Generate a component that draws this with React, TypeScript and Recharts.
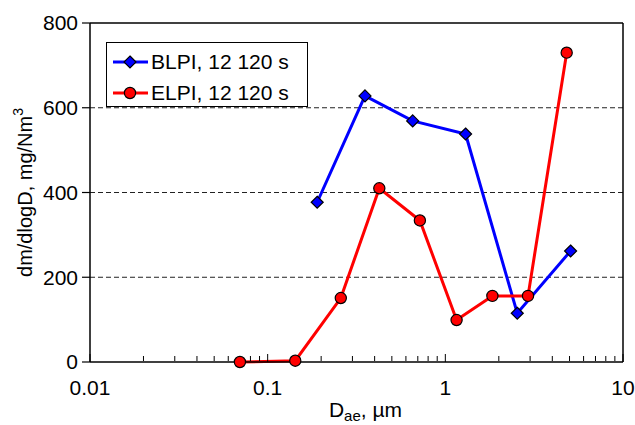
import { CartesianGrid, Line, LineChart, XAxis, YAxis } from "recharts";

// BLPI, 12 120 s
const blpiD = [0.19, 0.353, 0.655, 1.3, 2.54, 5.07];
const blpiM = [377, 628, 569, 538, 115, 262];

// ELPI, 12 120 s
const elpiD = [0.0698, 0.143, 0.258, 0.425, 0.719, 1.157, 1.84, 2.92, 4.82];
const elpiM = [0, 3, 151, 410, 334, 99, 156, 156, 730];

const seriesNames = ["BLPI, 12 120 s", "ELPI, 12 120 s"];
const seriesColors = ["#0000ff", "#ff0000"];

const xMajorTicks = [0.01, 0.1, 1, 10];
const xMinorTicks = [
  0.02, 0.03, 0.04, 0.05, 0.06, 0.07, 0.08, 0.09,
  0.2, 0.3, 0.4, 0.5, 0.6, 0.7, 0.8, 0.9,
  2, 3, 4, 5, 6, 7, 8, 9,
];
const yTicks = [0, 200, 400, 600, 800];
const yGrid = [200, 400, 600];

const blpi = blpiD.map((x, i) => ({ x, y: blpiM[i] }));
const elpi = elpiD.map((x, i) => ({ x, y: elpiM[i] }));

const font = "'Liberation Sans', Arial, sans-serif";
const tickFont = { fontSize: 21, fill: "#000", fontFamily: font };
const noLabel = () => <g />;

const Diamond = (p: any) => {
  const { cx, cy, index } = p;
  const s = 6;
  return (
    <path
      key={"d" + index}
      d={`M${cx},${cy - s}L${cx + s},${cy}L${cx},${cy + s}L${cx - s},${cy}Z`}
      fill="#0000ff"
      stroke="#000"
      strokeWidth={1.2}
    />
  );
};

const Circle = (p: any) => {
  const { cx, cy, index } = p;
  return <circle key={"c" + index} cx={cx} cy={cy} r={5.6} fill="#ff0000" stroke="#000" strokeWidth={1.2} />;
};

const YTitle = (p: any) => {
  const vb = p.viewBox;
  const cy = vb.y + vb.height / 2;
  return (
    <text
      x={32}
      y={cy}
      transform={`rotate(-90, 32, ${cy})`}
      textAnchor="middle"
      fontSize={20}
      fontFamily={font}
      fill="#000"
    >
      dm/dlogD, mg/Nm
      <tspan dy={-9} fontSize={14}>3</tspan>
    </text>
  );
};

const XTitle = (p: any) => {
  const vb = p.viewBox;
  const cx = vb.x + vb.width / 2 + 9;
  return (
    <text x={cx} y={417} textAnchor="middle" fontSize={21} fontFamily={font} fill="#000">
      D
      <tspan dy={4} fontSize={15}>ae</tspan>
      <tspan dy={-4}>, µm</tspan>
    </text>
  );
};

function LegendBox() {
  const markers = [
    <path d="M23,-6L29,0L23,6L17,0Z" fill="#0000ff" stroke="#000" strokeWidth={1.2} />,
    <circle cx={23} cy={0} r={5.6} fill="#ff0000" stroke="#000" strokeWidth={1.2} />,
  ];
  return (
    <div
      style={{
        position: "absolute",
        left: 106,
        top: 42,
        width: 202,
        height: 65,
        boxSizing: "border-box",
        border: "1.5px solid #000",
        background: "#fff",
        fontFamily: font,
        fontSize: 21,
        color: "#000",
      }}
    >
      {seriesNames.map((name, i) => (
        <div
          key={name}
          style={{ position: "absolute", left: 0, top: 19 + i * 31 - 13, height: 26, display: "flex", alignItems: "center" }}
        >
          <svg width={44} height={26} style={{ display: "block" }}>
            <g transform="translate(0,13)">
              <line x1={6} x2={41} y1={0} y2={0} stroke={seriesColors[i]} strokeWidth={3} />
              {markers[i]}
            </g>
          </svg>
          <span style={{ whiteSpace: "nowrap", lineHeight: "26px" }}>{name}</span>
        </div>
      ))}
    </div>
  );
}

export default function App() {
  return (
    <div style={{ position: "absolute", left: 0, top: 0, width: 635, height: 425, background: "#fff" }}>
      <LineChart width={635} height={425} margin={{ top: 23, right: 12, left: 0, bottom: 0 }}>
        <CartesianGrid horizontalValues={yGrid} vertical={false} stroke="#222" strokeDasharray="5 3" />
        <XAxis
          dataKey="x"
          type="number"
          scale="log"
          domain={[0.01, 10]}
          allowDataOverflow
          ticks={xMajorTicks}
          interval={0}
          height={63}
          tickLine={false}
          tickSize={8}
          tickMargin={10}
          tick={tickFont}
          axisLine={{ stroke: "#000", strokeWidth: 1.5 }}
          tickFormatter={(v: number) => String(v)}
          label={<XTitle />}
        />
        <XAxis
          xAxisId="minor"
          dataKey="x"
          type="number"
          scale="log"
          domain={[0.01, 10]}
          allowDataOverflow
          mirror
          height={1}
          ticks={xMinorTicks}
          interval={0}
          tick={noLabel}
          tickSize={5}
          tickLine={{ stroke: "#000", strokeWidth: 1 }}
          axisLine={false}
        />
        <XAxis
          xAxisId="major"
          dataKey="x"
          type="number"
          scale="log"
          domain={[0.01, 10]}
          allowDataOverflow
          mirror
          height={1}
          ticks={xMajorTicks}
          interval={0}
          tick={noLabel}
          tickSize={8}
          tickLine={{ stroke: "#000", strokeWidth: 1 }}
          axisLine={false}
        />
        <XAxis
          xAxisId="top"
          orientation="top"
          type="number"
          scale="log"
          domain={[0.01, 10]}
          allowDataOverflow
          mirror
          height={1}
          tick={false}
          tickLine={false}
          axisLine={{ stroke: "#000", strokeWidth: 1.5 }}
        />
        <YAxis
          type="number"
          domain={[0, 800]}
          ticks={yTicks}
          interval={0}
          width={90}
          tickSize={8}
          tickMargin={4}
          tick={tickFont}
          tickLine={{ stroke: "#000", strokeWidth: 1.2 }}
          axisLine={{ stroke: "#000", strokeWidth: 1.5 }}
          label={<YTitle />}
        />
        <YAxis
          yAxisId="right"
          orientation="right"
          type="number"
          domain={[0, 800]}
          mirror
          width={1}
          tick={false}
          tickLine={false}
          axisLine={{ stroke: "#000", strokeWidth: 1.5 }}
        />
        <Line
          data={blpi}
          dataKey="y"
          name={seriesNames[0]}
          stroke={seriesColors[0]}
          strokeWidth={3}
          dot={Diamond}
          isAnimationActive={false}
        />
        <Line
          data={elpi}
          dataKey="y"
          name={seriesNames[1]}
          stroke={seriesColors[1]}
          strokeWidth={3}
          dot={Circle}
          isAnimationActive={false}
        />
      </LineChart>
      <LegendBox />
    </div>
  );
}
